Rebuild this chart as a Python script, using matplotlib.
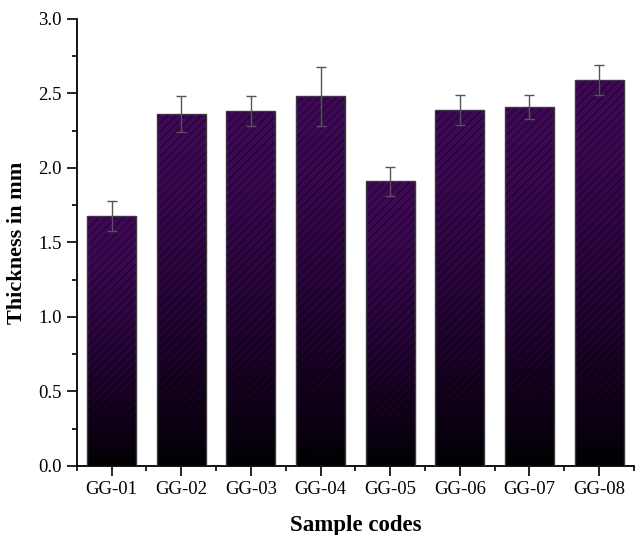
import numpy as np
import matplotlib
matplotlib.use("Agg")
import matplotlib.pyplot as plt
from matplotlib.colors import LinearSegmentedColormap
from matplotlib.ticker import MultipleLocator, FixedLocator

plt.rcParams["font.family"] = ["Liberation Serif", "DejaVu Serif"]
plt.rcParams["hatch.linewidth"] = 0.7

# thickness per sample (mm) and standard deviation
samples = ["GG-01", "GG-02", "GG-03", "GG-04", "GG-05", "GG-06", "GG-07", "GG-08"]
thickness = [1.68, 2.36, 2.38, 2.48, 1.91, 2.39, 2.41, 2.59]
std_dev = [0.10, 0.12, 0.10, 0.20, 0.10, 0.10, 0.08, 0.10]

bar_w = 0.70
# black at the base -> purple at the top
grad_cmap = LinearSegmentedColormap.from_list(
    "purple_fade",
    [(0.0, "#000000"), (0.08, "#0a0010"), (0.45, "#260438"), (0.8, "#3b0852"), (1.0, "#3f0957")],
)

fig = plt.figure(figsize=(6.35, 5.35), dpi=100)
ax = fig.add_axes([0.1208, 0.129, 0.8776, 0.8355])

x = np.arange(len(samples))
grad = np.linspace(0, 1, 256).reshape(-1, 1)

for xi, h in zip(x, thickness):
    left, right = xi - bar_w / 2, xi + bar_w / 2
    im = ax.imshow(grad, cmap=grad_cmap, origin="lower", aspect="auto",
                   extent=(left, right, 0, h), zorder=1, interpolation="bilinear")
    clip = plt.Rectangle((left, 0), bar_w, h, transform=ax.transData)
    im.set_clip_path(clip)

# diagonal hatching over the gradient, then the outline
ax.bar(x, thickness, width=bar_w, facecolor="none", edgecolor=(0, 0, 0, 0.55),
       hatch="////", linewidth=0, zorder=2)
ax.bar(x, thickness, width=bar_w, facecolor="none", edgecolor="#3a3a3a",
       linewidth=1.0, zorder=3)
ax.errorbar(x, thickness, yerr=std_dev, fmt="none", ecolor="#555555",
            elinewidth=1.0, capsize=3.5, capthick=1.0, zorder=4)

ax.set_xlim(-0.5, 7.5)
ax.set_ylim(0, 3.0)

ax.set_xticks(x)
ax.set_xticklabels(samples)
ax.xaxis.set_minor_locator(FixedLocator(np.arange(-0.5, 8.0, 1.0)))
ax.yaxis.set_major_locator(MultipleLocator(0.5))
ax.yaxis.set_minor_locator(MultipleLocator(0.25))
ax.yaxis.set_major_formatter(plt.FormatStrFormatter("%.1f"))

ax.spines["top"].set_visible(False)
ax.spines["right"].set_visible(False)
for sp in ("left", "bottom"):
    ax.spines[sp].set_linewidth(1.3)

ax.tick_params(which="major", direction="out", length=7, width=1.2, labelsize=13.5, pad=4)
ax.tick_params(which="minor", direction="out", length=3.5, width=1.2)

ax.set_xlabel("Sample codes", fontsize=16.5, fontweight="bold", labelpad=12)
ax.set_ylabel("Thickness in mm", fontsize=16, fontweight="bold", labelpad=8)

fig.savefig("out.png", dpi=100)
